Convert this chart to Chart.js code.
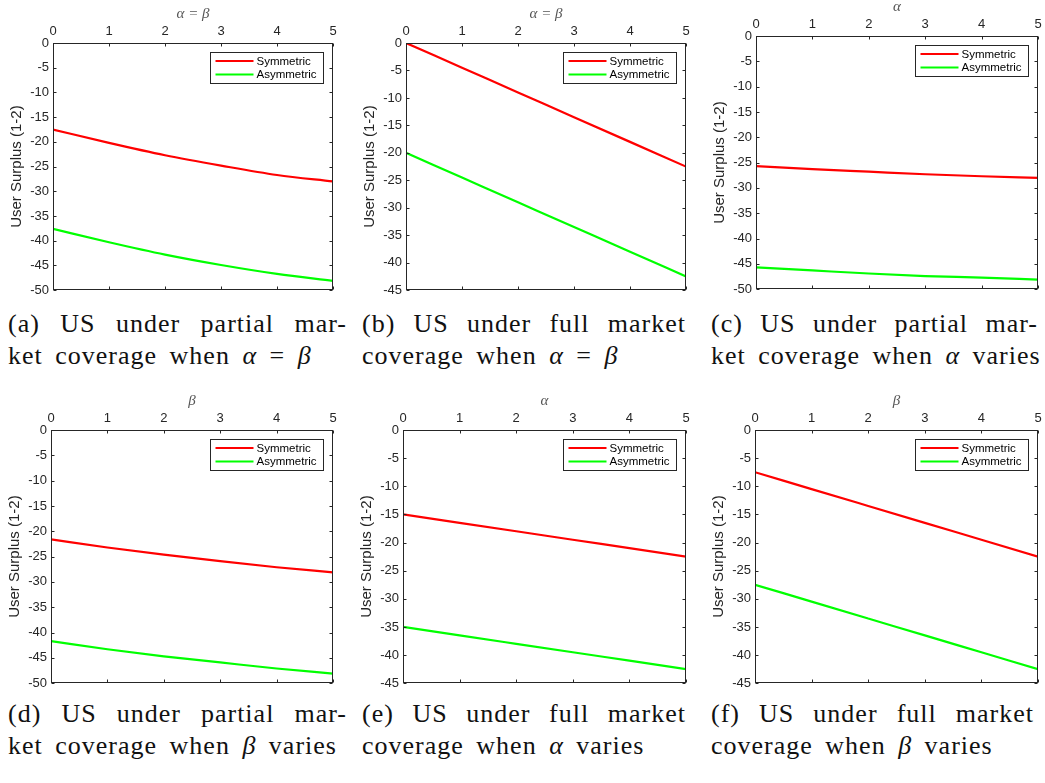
<!DOCTYPE html>
<html>
<head>
<meta charset="utf-8">
<script src="https://cdn.jsdelivr.net/npm/chart.js@4.4.1/dist/chart.umd.min.js"></script>
<style>
  body { margin: 0; background: #fff; }
  #page { position: relative; width: 1045px; height: 783px; overflow: hidden; }
  canvas { position: absolute; }
  .cap { position: absolute; font-family: "Times New Roman", Times, "Liberation Serif", Tinos, "DejaVu Serif", serif; font-size: 26px; line-height: 30px; color: #111; white-space: nowrap; letter-spacing: 1px; word-spacing: 5px; }
  .cap.just { text-align: justify; text-align-last: justify; }
</style>
</head>
<body>
<div id="page"></div>
<script>
// values read at alpha/beta = 0..5
var xValues = [0, 1, 2, 3, 4, 5];
var seriesNames = ["Symmetric", "Asymmetric"];
var xTitles = ["α = β", "α = β", "α", "β", "α", "β"];
var yTitle = "User Surplus (1-2)";
var yMins = [-50, -45, -50, -50, -45, -45];

var symA = [-17.5, -20.2, -22.7, -24.8, -26.7, -28.0];
var asymA = [-37.6, -40.3, -42.8, -44.9, -46.7, -48.1];
var symB = [0, -4.5, -9.0, -13.5, -18.0, -22.5];
var asymB = [-20.0, -24.5, -29.0, -33.5, -38.0, -42.5];
var symC = [-25.7, -26.3, -26.8, -27.3, -27.7, -28.0];
var asymC = [-45.7, -46.3, -46.9, -47.4, -47.7, -48.1];
var symD = [-21.6, -23.2, -24.6, -25.9, -27.1, -28.1];
var asymD = [-41.7, -43.3, -44.7, -45.9, -47.1, -48.1];
var symE = [-15.0, -16.5, -18.0, -19.5, -21.0, -22.5];
var asymE = [-35.0, -36.5, -38.0, -39.5, -41.0, -42.5];
var symF = [-7.5, -10.5, -13.5, -16.5, -19.5, -22.5];
var asymF = [-27.5, -30.5, -33.5, -36.5, -39.5, -42.5];

var symSeries = [symA, symB, symC, symD, symE, symF];
var asymSeries = [asymA, asymB, asymC, asymD, asymE, asymF];

// axes box of each panel on the page: left, top, right, bottom
var boxes = [
  [53, 43, 333, 296],
  [406, 43, 686, 296],
  [756, 36, 1038, 295],
  [51, 430, 333, 689],
  [403, 430, 686, 689],
  [755, 430, 1038, 689]
];

// caption lines: [left, right or null, top, html, justified]
var captionLines = [
  [8, 347, 309, "(a) US under partial mar-", true],
  [8, null, 341, "ket coverage when <i>α</i> = <i>β</i>", false],
  [362, 686, 309, "(b) US under full market", true],
  [362, null, 341, "coverage when <i>α</i> = <i>β</i>", false],
  [711, 1038, 309, "(c) US under partial mar-", true],
  [711, null, 341, "ket coverage when <i>α</i> varies", false],
  [8, 347, 699, "(d) US under partial mar-", true],
  [8, null, 731, "ket coverage when <i>β</i> varies", false],
  [362, 686, 699, "(e) US under full market", true],
  [362, null, 731, "coverage when <i>α</i> varies", false],
  [711, 1034, 699, "(f) US under full market", true],
  [711, null, 731, "coverage when <i>β</i> varies", false]
];

var ink = "#262626";
var padL = 56, padT = 45, padR = 8, padB = 6;
var serifStack = "'Times New Roman', Times, 'Liberation Serif', Tinos, 'DejaVu Serif', serif";
var sansStack = "'Liberation Sans', Arial, sans-serif";
var page = document.getElementById("page");

// box around the axes, inward tick marks and the legend
var axesBox = {
  id: "axesBox",
  afterDraw: function (chart) {
    var ctx = chart.ctx, a = chart.chartArea;
    var xs = chart.scales.x, ys = chart.scales.y;
    var L = Math.round(a.left) + 0.5, R = Math.round(a.right) - 0.5;
    var T = Math.round(a.top) + 0.5, B = Math.round(a.bottom) - 0.5;
    ctx.save();
    ctx.strokeStyle = ink;
    ctx.lineWidth = 1;
    ctx.strokeRect(L, T, R - L, B - T);
    ctx.beginPath();
    xs.ticks.forEach(function (t) {
      var px = Math.round(xs.getPixelForValue(t.value)) + 0.5;
      ctx.moveTo(px, T); ctx.lineTo(px, T + 3);
      ctx.moveTo(px, B); ctx.lineTo(px, B - 3);
    });
    ys.ticks.forEach(function (t) {
      var py = Math.round(ys.getPixelForValue(t.value)) + 0.5;
      ctx.moveTo(L, py); ctx.lineTo(L + 3, py);
      ctx.moveTo(R, py); ctx.lineTo(R - 3, py);
    });
    ctx.stroke();

    // legend in the top right corner
    ctx.font = "11.5px " + sansStack;
    var sets = chart.data.datasets;
    var tw = 0;
    sets.forEach(function (d) { tw = Math.max(tw, ctx.measureText(d.label).width); });
    var bw = Math.round(46 + tw + 7), bh = 31;
    var bx = Math.round(a.right) - 10 - bw + 0.5, by = Math.round(a.top) + 9 + 0.5;
    ctx.fillStyle = "#fff";
    ctx.fillRect(bx, by, bw, bh);
    ctx.strokeStyle = ink;
    ctx.strokeRect(bx, by, bw, bh);
    sets.forEach(function (d, k) {
      var ry = by + 8.5 + k * 13.5;
      ctx.strokeStyle = d.borderColor;
      ctx.lineWidth = 2;
      ctx.beginPath();
      ctx.moveTo(bx + 5, ry); ctx.lineTo(bx + 43, ry);
      ctx.stroke();
      ctx.fillStyle = "#000";
      ctx.textBaseline = "middle";
      ctx.textAlign = "left";
      ctx.fillText(d.label, bx + 46, ry + 0.5);
    });
    ctx.restore();
  }
};

function points(vals) {
  return xValues.map(function (x, k) { return { x: x, y: vals[k] }; });
}

function makeChart(i) {
  var b = boxes[i];
  var canvas = document.createElement("canvas");
  canvas.width = b[2] - b[0] + padL + padR;
  canvas.height = b[3] - b[1] + padT + padB;
  canvas.style.left = (b[0] - padL) + "px";
  canvas.style.top = (b[1] - padT) + "px";
  page.appendChild(canvas);

  new Chart(canvas, {
    type: "line",
    data: {
      datasets: [
        { label: seriesNames[0], data: points(symSeries[i]), borderColor: "#ff0000" },
        { label: seriesNames[1], data: points(asymSeries[i]), borderColor: "#00ff00" }
      ]
    },
    options: {
      responsive: false,
      animation: false,
      layout: { padding: { left: 0, top: 0, right: padR, bottom: padB } },
      plugins: { legend: { display: false }, tooltip: { enabled: false } },
      elements: {
        point: { radius: 0 },
        line: { borderWidth: 2.2, cubicInterpolationMode: "monotone", fill: false }
      },
      scales: {
        x: {
          type: "linear", position: "top", min: 0, max: 5,
          afterFit: function (s) { s.height = padT; },
          grid: { display: false, drawTicks: false },
          border: { display: false },
          ticks: { stepSize: 1, padding: 4, color: ink, font: { family: sansStack, size: 13 } },
          title: {
            display: true, text: xTitles[i], color: "#555",
            font: { family: serifStack, size: 15, style: "italic" },
            padding: { top: 7, bottom: 0 }
          }
        },
        y: {
          type: "linear", min: yMins[i], max: 0,
          afterFit: function (s) { s.width = padL; },
          grid: { display: false, drawTicks: false },
          border: { display: false },
          ticks: { stepSize: 5, padding: 4, color: ink, autoSkip: false, font: { family: sansStack, size: 13 } },
          title: {
            display: true, text: yTitle, color: ink,
            font: { family: sansStack, size: 15 },
            padding: { top: 11, bottom: 0 }
          }
        }
      }
    },
    plugins: [axesBox]
  });
}

for (var i = 0; i < boxes.length; i++) makeChart(i);

captionLines.forEach(function (c) {
  var div = document.createElement("div");
  div.className = c[4] ? "cap just" : "cap";
  div.style.left = c[0] + "px";
  div.style.top = c[2] + "px";
  if (c[1] !== null) div.style.width = (c[1] - c[0]) + "px";
  div.innerHTML = c[3];
  page.appendChild(div);
});
</script>
</body>
</html>
